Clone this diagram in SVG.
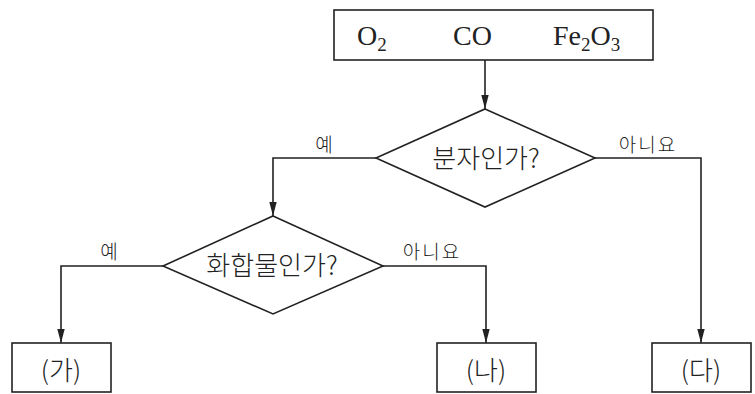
<svg xmlns="http://www.w3.org/2000/svg" width="755" height="394" viewBox="0 0 755 394">
<style>
.box{fill:#fff;stroke:#222;stroke-width:1.6}
.line{fill:none;stroke:#222;stroke-width:1.6}
.f{font-family:"Liberation Serif","Times New Roman",serif;font-size:28px;fill:#222}
.sub{font-size:19px}
.k{font-family:"Noto Sans CJK KR","Noto Sans",sans-serif;font-weight:300;fill:#222;text-anchor:middle}
.q{font-size:26px}
.lab{font-size:19px;letter-spacing:2px}
</style>
<defs>
<marker id="ah" markerUnits="userSpaceOnUse" markerWidth="14" markerHeight="8" refX="14" refY="4" orient="auto">
<path d="M0,0.3 L14,4 L0,7.7 z" fill="#222"/>
</marker>
</defs>
<rect width="755" height="394" fill="#fff"/>
<g id="connectors">
<path class="line" d="M485,60 V109" marker-end="url(#ah)"/>
<path class="line" d="M376,158 H273 V216" marker-end="url(#ah)"/>
<path class="line" d="M595,158 H701 V343" marker-end="url(#ah)"/>
<path class="line" d="M163,266 H61 V343" marker-end="url(#ah)"/>
<path class="line" d="M383,266 H486 V343" marker-end="url(#ah)"/>
<text class="k lab" x="325" y="152">예</text>
<text class="k lab" x="648" y="152">아니요</text>
<text class="k lab" x="110" y="259">예</text>
<text class="k lab" x="432" y="259">아니요</text>
</g>
<g id="start">
<rect class="box" x="334" y="10" width="319" height="50"/>
<text class="f" x="357" y="45">O<tspan class="sub" dy="6">2</tspan></text>
<text class="f" x="453" y="45">CO</text>
<text class="f" x="553" y="45">Fe<tspan class="sub" dy="6">2</tspan><tspan dy="-6">O</tspan><tspan class="sub" dy="6">3</tspan></text>
</g>
<g id="d1">
<polygon class="box" points="485,109 595,158 485,207 376,158"/>
<text class="k q" x="486" y="168">분자인가?</text>
</g>
<g id="d2">
<polygon class="box" points="273,216 383,266 273,314 163,266"/>
<text class="k q" x="272" y="275">화합물인가?</text>
</g>
<g id="ga">
<rect class="box" x="12" y="343" width="99" height="49"/>
<text class="k q" x="61" y="380">(가)</text>
</g>
<g id="na">
<rect class="box" x="437" y="343" width="99" height="49"/>
<text class="k q" x="486" y="380">(나)</text>
</g>
<g id="da">
<rect class="box" x="652" y="343" width="99" height="49"/>
<text class="k q" x="701" y="380">(다)</text>
</g>
</svg>
